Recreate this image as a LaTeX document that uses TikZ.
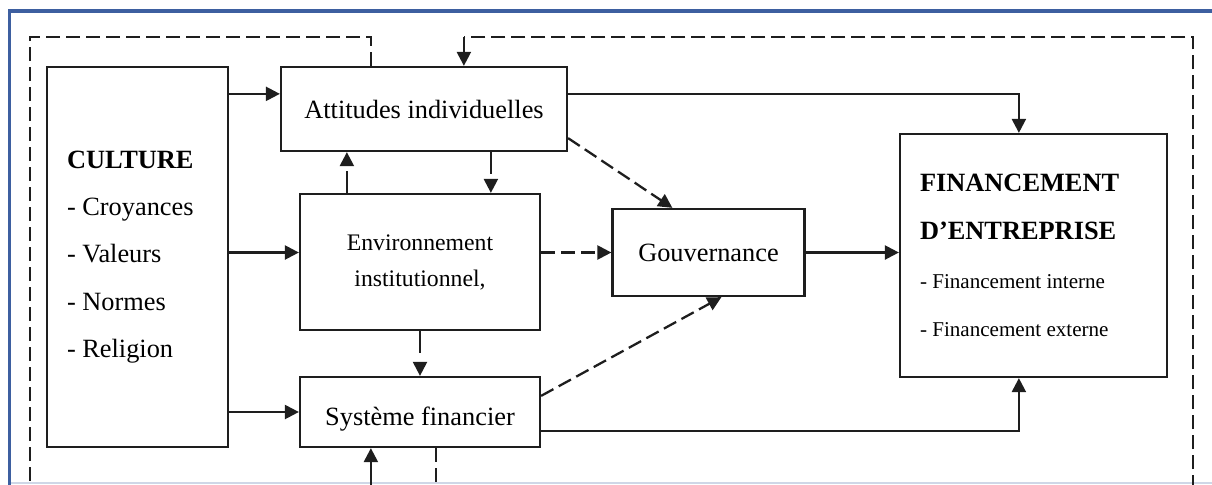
\documentclass[tikz,border=0pt]{standalone}
\usepackage{fontspec}
\setmainfont{Liberation Serif}
\usepackage{xcolor}
\definecolor{frameBlue}{HTML}{3D5FA0}
\definecolor{lineGrey}{HTML}{1E1E1E}
\usetikzlibrary{arrows.meta,calc}

\tikzset{
  box/.style={draw=lineGrey, line width=1.3pt, rectangle, inner sep=0pt},
  link/.style={draw=lineGrey, line width=1.3pt, -{Triangle[length=2.8mm,width=2.8mm]}},
  dlink/.style={link, dash pattern=on 0.28cm off 0.12cm},
  glink/.style={link, dash pattern=on 0.44cm off 0.4cm},
  loopline/.style={draw=lineGrey, line width=1.3pt, dash pattern=on 0.28cm off 0.12cm},
}

\begin{document}
\begin{tikzpicture}[x=0.02cm, y=-0.02cm]
  \useasboundingbox (0,0) rectangle (1212,484);
  \clip (0,0) rectangle (1212,484);
  % frame
  \draw[frameBlue!25, line width=0.6pt] (10,483) -- (1230,483);
  \draw[frameBlue, line width=2pt] (9.5,520) -- (9.5,11) -- (1230,11);

  % boxes
  \node[box, minimum width=3.62cm, minimum height=7.6cm, text width=2.82cm, align=flush left,
        font=\fontsize{15}{27}\selectfont] (cult) at (137.5,257)
        {\textbf{CULTURE}\\- Croyances\\- Valeurs\\- Normes\\- Religion};
  \node[box, minimum width=5.72cm, minimum height=1.68cm, font=\fontsize{15}{18}\selectfont]
        (att) at (424,109) {Attitudes individuelles};
  \node[box, minimum width=4.8cm, minimum height=2.72cm, align=center,
        font=\fontsize{13.5}{20.5}\selectfont] (env) at (420,262) {Environnement\\institutionnel,};
  \node[box, minimum width=3.84cm, minimum height=1.74cm, font=\fontsize{15}{18}\selectfont]
        (gouv) at (708.5,252.5) {Gouvernance};
  \node[box, minimum width=4.8cm, minimum height=1.4cm, text height=18pt, text depth=3pt,
        font=\fontsize{15}{18}\selectfont] (sys) at (420,412) {Système financier};
  \node[box, minimum width=5.34cm, minimum height=4.86cm, text width=4.54cm, align=flush left,
        font=\fontsize{15}{27.5}\selectfont] (fin) at (1033.5,255.5)
        {\textbf{FINANCEMENT}\\\textbf{D'ENTREPRISE}\\
         {\fontsize{12}{14}\selectfont - Financement interne}\\
         {\fontsize{12}{14}\selectfont - Financement externe}};

  % points on the boxes
  \coordinate (attin) at ([yshift=-0.56cm]att.north west);
  \coordinate (envup) at ($(env.north west)+(48,0)$);
  \coordinate (attdn) at ($(env.north west)+(192,0)$);
  \coordinate (finin) at ($(fin.north west)+(120,0)$);
  \coordinate (lpA) at ($(att.north west)+(91,0)$);
  \coordinate (lpB) at ($(att.north west)+(184,0)$);
  \coordinate (sysin) at ($(sys.south west)+(72,0)$);
  \coordinate (sysout) at ($(sys.south west)+(137,0)$);
  \coordinate (ltop) at (30,37);
  \coordinate (lbot) at (30,520);
  \coordinate (rtop) at (1193,37);
  \coordinate (rbot) at (1193,520);

  % culture links
  \draw[link] (cult.east |- attin) -- (attin);
  \draw[link] (cult.east |- gouv.west) -- (env.west |- gouv.west);
  \draw[link] (cult.east |- sys.west) -- (sys.west);

  % between the middle boxes
  \draw[glink] (envup) -- (envup |- att.south);
  \draw[glink] (attdn |- att.south) -- (attdn);
  \draw[glink] (env.south) -- (sys.north);

  % to gouvernance
  \draw[dlink] ($(att.south east)+(0,-14)$) -- ($(gouv.north west)+(61,0)$);
  \draw[dlink] (env.east |- gouv.west) -- (gouv.west);
  \draw[dlink] ($(sys.north east)+(0,20)$) -- ($(gouv.south west)+(110,0)$);

  % to financement
  \draw[link] (gouv.east) -- (fin.west |- gouv.east);
  \draw[link] (attin -| att.east) -| (finin);
  \draw[link] ($(sys.south east)+(0,-17)$) -| (finin |- fin.south);

  % feedback loops
  \draw[loopline] (lpA) -- (lpA |- ltop) -- (ltop) -- (lbot) -- (lbot -| sysin);
  \draw[link] (lbot -| sysin) -- (sysin);
  \draw[loopline] (sysout) -- (sysout |- rbot) -- (rbot) -- (rtop) -- (rtop -| lpB);
  \draw[link] (rtop -| lpB) -- (lpB);
\end{tikzpicture}
\end{document}
